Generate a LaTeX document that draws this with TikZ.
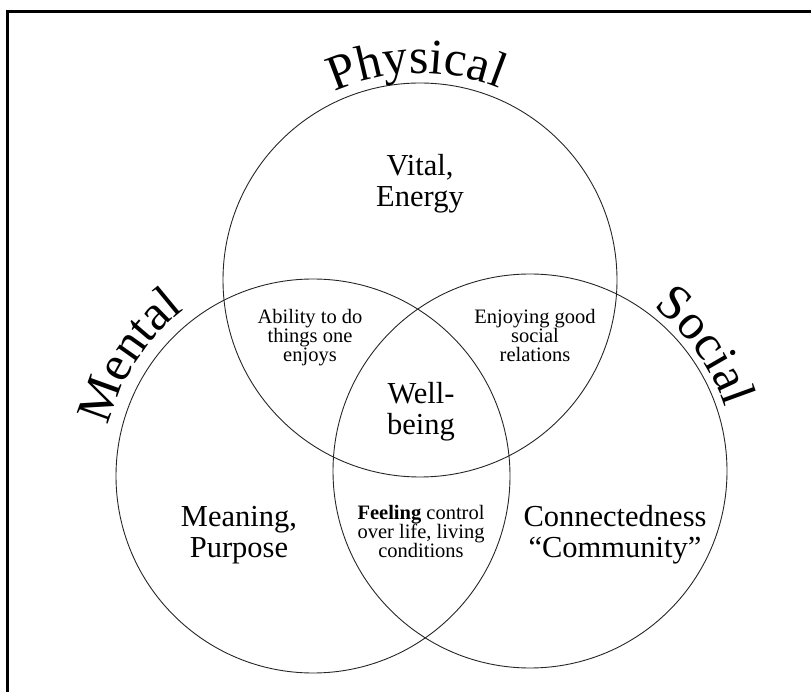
\documentclass[tikz,border=0pt]{standalone}
\usepackage{fontspec}
\setmainfont{Liberation Serif}
\usetikzlibrary{decorations.text}
\begin{document}
\begin{tikzpicture}[x=1pt,y=1pt,
  ring/.style={draw=black!85, line width=0.9pt},
  bigtext/.style={font=\fontsize{30.5}{31}\selectfont, align=center, inner sep=0pt},
  smalltext/.style={font=\fontsize{20.5}{19}\selectfont, align=center, inner sep=0pt},
  frameline/.style={line width=3pt}]
\useasboundingbox (0,0) rectangle (811,691);
% frame (top and left edges)
\coordinate (bl) at (7,-5);
\coordinate (tl) at (7,679);
\coordinate (tr) at (816,679);
\draw[frameline] (bl) -- (tl) -- (tr);
% circle centres
\coordinate (P) at (420,411);
\coordinate (M) at (313,215);
\coordinate (S) at (530,220);
\draw[ring] (P) circle[radius=197];
\draw[ring] (M) circle[radius=197];
\draw[ring] (S) circle[radius=197];
% arched titles
\path[decorate, decoration={text along path, text align=center,
  text={|\fontsize{50}{50}\selectfont|Physical}}]
  ([shift={(125:207)}]P) arc[start angle=125, end angle=57, radius=207];
\path[decorate, decoration={text along path, text align=center,
  text={|\fontsize{50}{50}\selectfont|Mental}}]
  ([shift={(177:210)}]M) arc[start angle=177, end angle=117, radius=210];
\path[decorate, decoration={text along path, text align=center,
  text={|\fontsize{50}{50}\selectfont|Social}}]
  ([shift={(62:205)}]S) arc[start angle=62, end angle=9, radius=205];
% region labels
\node[bigtext] (vital) at (420,507) {Vital,\\Energy};
\node[smalltext] (ability) at (310,353.5) {Ability to do\\things one\\enjoys};
\node[smalltext] (social) at (535,356) {Enjoying good\\social\\relations};
\node[bigtext] (well) at (421,279) {Well-\\being};
\node[bigtext] (meaning) at (239,156) {Meaning,\\Purpose};
\node[smalltext] (feeling) at (421,160) {\textbf{Feeling} control\\over life, living\\conditions};
\node[bigtext] (conn) at (615,156) {Connectedness\\``Community''};
\end{tikzpicture}
\end{document}
